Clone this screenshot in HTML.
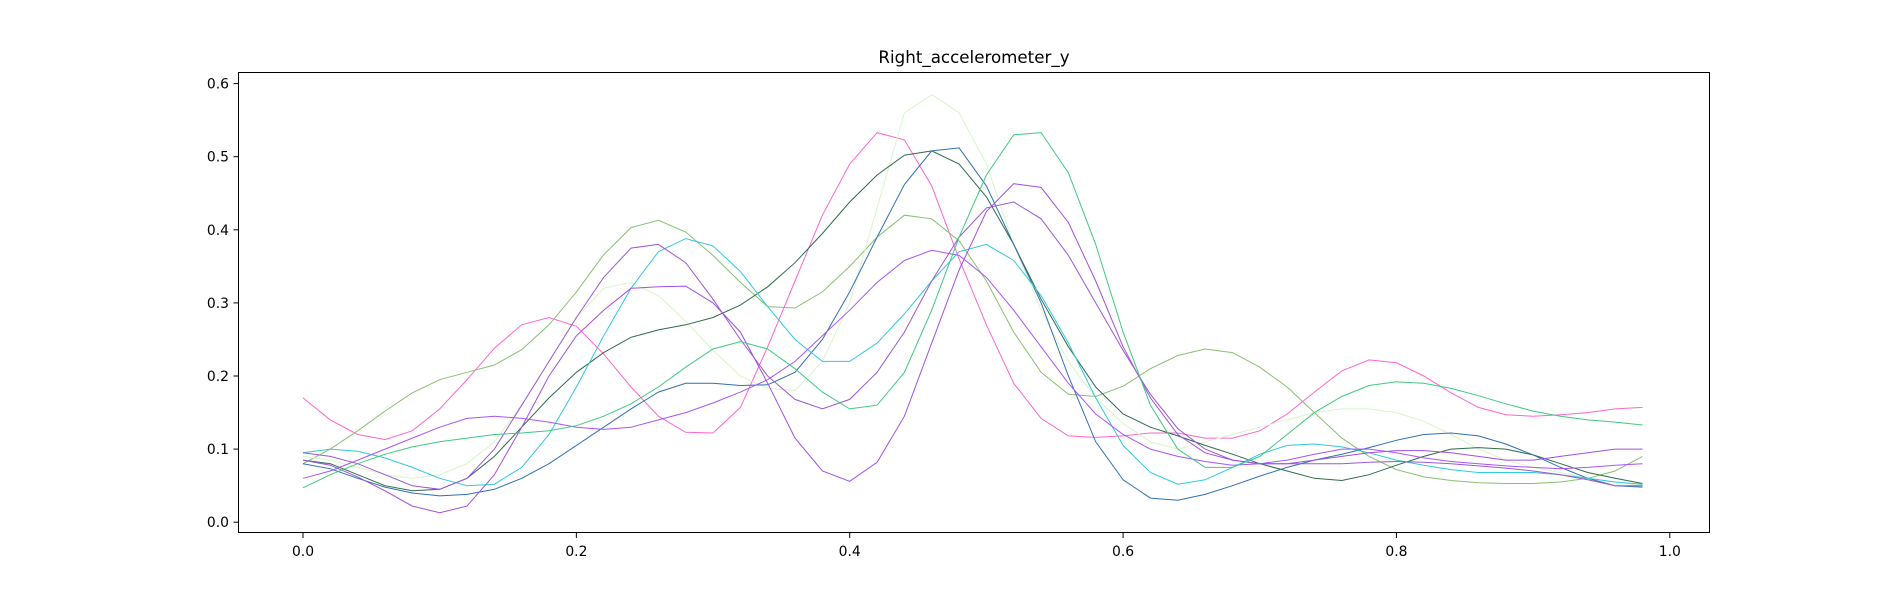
<!DOCTYPE html>
<html><head><meta charset="utf-8"><style>
body{margin:0;background:#fff;font-family:"Liberation Sans","DejaVu Sans",sans-serif;}
svg text{font-family:"DejaVu Sans","Liberation Sans",sans-serif;font-size:13.9px;fill:#000;}
</style></head><body>
<svg id="chart" width="1900" height="600" xmlns="http://www.w3.org/2000/svg">
<rect width="1900" height="600" fill="#fff"/>
<text x="974" y="63" text-anchor="middle" style="font-size:16.7px">Right_accelerometer_y</text>
<g id="lines"></g>
<g id="axes"></g>
<rect x="238.5" y="72.5" width="1471" height="460" fill="none" stroke="#000" stroke-width="1"/>
</svg>
<script>
const xTicks=[0,0.2,0.4,0.6,0.8,1.0];
const xTickLabels=["0.0","0.2","0.4","0.6","0.8","1.0"];
const yTicks=[0,0.1,0.2,0.3,0.4,0.5,0.6];
const yTickLabels=["0.0","0.1","0.2","0.3","0.4","0.5","0.6"];
const seriesColors=["#ff66cc","#88c070","#d8f5c8","#2e6b4b","#3070b0","#30c8e0","#9b59d0","#a050e0","#a855f7","#40c880"];
const sPink=[0.17,0.14,0.12,0.113,0.125,0.155,0.195,0.238,0.27,0.28,0.268,0.23,0.185,0.145,0.123,0.122,0.157,0.24,0.33,0.42,0.49,0.533,0.523,0.46,0.36,0.27,0.19,0.142,0.118,0.116,0.118,0.122,0.122,0.115,0.115,0.125,0.148,0.178,0.207,0.222,0.218,0.2,0.177,0.157,0.147,0.145,0.147,0.15,0.155,0.157];
const sGreen=[0.08,0.1,0.125,0.152,0.177,0.195,0.205,0.215,0.236,0.27,0.315,0.366,0.403,0.413,0.397,0.365,0.328,0.295,0.293,0.315,0.35,0.39,0.42,0.415,0.385,0.33,0.26,0.205,0.175,0.172,0.186,0.21,0.228,0.237,0.232,0.212,0.185,0.15,0.115,0.09,0.072,0.062,0.057,0.054,0.053,0.053,0.055,0.06,0.07,0.09];
const sLight=[0.09,0.085,0.075,0.065,0.06,0.065,0.08,0.11,0.16,0.22,0.28,0.32,0.328,0.31,0.275,0.235,0.2,0.183,0.18,0.22,0.3,0.43,0.56,0.585,0.56,0.49,0.38,0.29,0.22,0.17,0.135,0.11,0.1,0.11,0.12,0.13,0.14,0.15,0.155,0.155,0.15,0.138,0.12,0.1,0.085,0.075,0.068,0.06,0.055,0.05];
const sDark=[0.085,0.08,0.065,0.05,0.043,0.045,0.06,0.09,0.13,0.17,0.205,0.232,0.253,0.263,0.27,0.28,0.297,0.322,0.355,0.395,0.438,0.475,0.502,0.508,0.49,0.445,0.38,0.305,0.24,0.185,0.148,0.13,0.118,0.105,0.093,0.08,0.07,0.06,0.057,0.065,0.078,0.09,0.1,0.102,0.1,0.092,0.08,0.068,0.06,0.053];
const sBlue=[0.08,0.073,0.06,0.048,0.04,0.036,0.038,0.045,0.06,0.08,0.105,0.13,0.155,0.178,0.19,0.19,0.187,0.188,0.205,0.25,0.315,0.39,0.462,0.508,0.512,0.46,0.38,0.3,0.2,0.11,0.058,0.033,0.03,0.038,0.05,0.063,0.075,0.085,0.093,0.102,0.112,0.12,0.122,0.118,0.107,0.092,0.075,0.06,0.05,0.048];
const sCyan=[0.095,0.1,0.097,0.088,0.075,0.06,0.05,0.052,0.075,0.12,0.185,0.255,0.32,0.37,0.388,0.378,0.343,0.295,0.25,0.22,0.22,0.245,0.285,0.33,0.37,0.38,0.358,0.31,0.245,0.17,0.105,0.068,0.052,0.058,0.075,0.093,0.105,0.107,0.103,0.095,0.085,0.078,0.072,0.068,0.068,0.068,0.065,0.06,0.055,0.052];
const sPurpleA=[0.095,0.09,0.08,0.065,0.05,0.045,0.06,0.1,0.16,0.22,0.28,0.335,0.375,0.38,0.355,0.305,0.25,0.2,0.168,0.155,0.168,0.205,0.26,0.33,0.39,0.43,0.438,0.415,0.365,0.3,0.235,0.175,0.128,0.1,0.085,0.08,0.08,0.08,0.08,0.082,0.083,0.082,0.08,0.077,0.074,0.07,0.065,0.058,0.05,0.05];
const sPurpleB=[0.085,0.078,0.062,0.043,0.022,0.013,0.022,0.065,0.13,0.2,0.255,0.29,0.32,0.322,0.323,0.3,0.26,0.19,0.115,0.07,0.056,0.082,0.145,0.245,0.345,0.425,0.463,0.458,0.41,0.33,0.24,0.17,0.12,0.095,0.085,0.08,0.08,0.085,0.09,0.095,0.098,0.098,0.095,0.09,0.085,0.085,0.09,0.095,0.1,0.1];
const sViolet=[0.06,0.07,0.085,0.1,0.115,0.13,0.142,0.145,0.142,0.137,0.13,0.127,0.13,0.14,0.15,0.163,0.178,0.195,0.22,0.255,0.29,0.328,0.358,0.372,0.365,0.335,0.29,0.24,0.19,0.148,0.12,0.1,0.09,0.083,0.078,0.08,0.085,0.093,0.1,0.1,0.095,0.088,0.083,0.08,0.077,0.075,0.073,0.075,0.078,0.08];
const sSea=[0.047,0.065,0.08,0.093,0.103,0.11,0.115,0.12,0.122,0.125,0.132,0.145,0.162,0.185,0.212,0.237,0.247,0.237,0.21,0.178,0.155,0.16,0.205,0.29,0.39,0.475,0.53,0.533,0.478,0.38,0.26,0.16,0.1,0.075,0.075,0.09,0.12,0.15,0.172,0.187,0.192,0.19,0.183,0.173,0.162,0.152,0.145,0.14,0.137,0.133];
const allSeries=[sPink,sGreen,sLight,sDark,sBlue,sCyan,sPurpleA,sPurpleB,sViolet,sSea];
const seriesNames=["series-pink","series-green","series-light-green","series-dark-green","series-blue","series-cyan","series-purple-a","series-purple-b","series-violet","series-sea-green"];
const NS="http://www.w3.org/2000/svg";
function xs(v){return 303+v*1366.8;}
function ys(v){return 522.2-v*731;}
const lines=document.getElementById('lines');
allSeries.forEach((s,i)=>{
  const p=document.createElementNS(NS,'polyline');
  p.setAttribute('points',s.map((v,j)=>xs(j*0.02).toFixed(1)+','+ys(v).toFixed(1)).join(' '));
  p.setAttribute('fill','none');p.setAttribute('stroke',seriesColors[i]);p.setAttribute('stroke-width','1');
  
  
  lines.appendChild(p);
});
const axes=document.getElementById('axes');
xTicks.forEach((t,i)=>{
  const l=document.createElementNS(NS,'line');
  l.setAttribute('x1',xs(t));l.setAttribute('x2',xs(t));l.setAttribute('y1',533);l.setAttribute('y2',538);l.setAttribute('stroke','#000');
  
  
  axes.appendChild(l);
  const tx=document.createElementNS(NS,'text');
  tx.setAttribute('x',xs(t));tx.setAttribute('y',556);tx.setAttribute('text-anchor','middle');tx.textContent=xTickLabels[i];
  
  
  axes.appendChild(tx);
});
yTicks.forEach((t,i)=>{
  const l=document.createElementNS(NS,'line');
  l.setAttribute('x1',233.5);l.setAttribute('x2',238.5);l.setAttribute('y1',ys(t));l.setAttribute('y2',ys(t));l.setAttribute('stroke','#000');
  
  
  axes.appendChild(l);
  const tx=document.createElementNS(NS,'text');
  tx.setAttribute('x',229);tx.setAttribute('y',ys(t)+5);tx.setAttribute('text-anchor','end');tx.textContent=yTickLabels[i];
  
  
  axes.appendChild(tx);
});
</script>
</body></html>
